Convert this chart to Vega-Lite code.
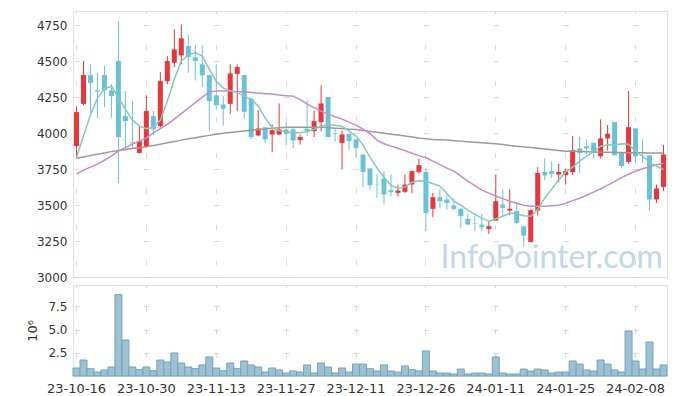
{
"$schema": "https://vega.github.io/schema/vega-lite/v6.json",
"background": "white",
"padding": {"left": 26, "top": 10, "right": 10, "bottom": 5},
"spacing": 0,
"config": {"font": "DejaVu Sans", "view": {"stroke": "#e2e2e2"}, "axis": {"labelColor": "#333333", "labelFont": "DejaVu Sans", "labelFontSize": 12, "domain": false, "ticks": false, "labelOverlap": false}},
"datasets": {"k": [
{"d":"23-10-16","o":3910,"h":4188,"l":3829,"c":4147,"v":0.86,"m5":3833,"m20":3717,"m60":3826},
{"d":"23-10-17","o":4204,"h":4502,"l":4195,"c":4404,"v":1.72,"m5":3980,"m20":3743,"m60":3835},
{"d":"23-10-18","o":4404,"h":4479,"l":4142,"c":4350,"v":0.79,"m5":4126,"m20":3764,"m60":3845},
{"d":"23-10-19","o":4298,"h":4420,"l":4107,"c":4290,"v":0.43,"m5":4244,"m20":3785,"m60":3854},
{"d":"23-10-20","o":4404,"h":4467,"l":4181,"c":4298,"v":0.65,"m5":4307,"m20":3812,"m60":3863},
{"d":"23-10-23","o":4298,"h":4341,"l":4107,"c":4258,"v":0.97,"m5":4328,"m20":3840,"m60":3872},
{"d":"23-10-24","o":4502,"h":4780,"l":3654,"c":3973,"v":8.76,"m5":4246,"m20":3875,"m60":3880},
{"d":"23-10-25","o":4119,"h":4293,"l":3898,"c":4084,"v":3.88,"m5":4167,"m20":3900,"m60":3886},
{"d":"23-10-26","o":3936,"h":4223,"l":3893,"c":3930,"v":0.97,"m5":4091,"m20":3924,"m60":3893},
{"d":"23-10-27","o":3863,"h":4049,"l":3860,"c":3945,"v":0.68,"m5":4049,"m20":3945,"m60":3899},
{"d":"23-10-30","o":3905,"h":4263,"l":3900,"c":4154,"v":0.97,"m5":4032,"m20":3968,"m60":3905},
{"d":"23-10-31","o":4119,"h":4154,"l":3986,"c":4026,"v":0.57,"m5":4039,"m20":4000,"m60":3914},
{"d":"23-11-01","o":4049,"h":4425,"l":4040,"c":4362,"v":1.72,"m5":4091,"m20":4032,"m60":3924},
{"d":"23-11-02","o":4362,"h":4536,"l":4341,"c":4502,"v":1.51,"m5":4223,"m20":4061,"m60":3933},
{"d":"23-11-03","o":4490,"h":4722,"l":4460,"c":4583,"v":2.48,"m5":4376,"m20":4098,"m60":3942},
{"d":"23-11-06","o":4541,"h":4757,"l":4479,"c":4660,"v":1.40,"m5":4502,"m20":4136,"m60":3952},
{"d":"23-11-07","o":4606,"h":4683,"l":4420,"c":4531,"v":0.97,"m5":4543,"m20":4174,"m60":3961},
{"d":"23-11-08","o":4529,"h":4613,"l":4367,"c":4502,"v":0.79,"m5":4559,"m20":4213,"m60":3969},
{"d":"23-11-09","o":4479,"h":4611,"l":4321,"c":4402,"v":1.19,"m5":4536,"m20":4251,"m60":3977},
{"d":"23-11-10","o":4404,"h":4404,"l":4014,"c":4223,"v":2.05,"m5":4446,"m20":4286,"m60":3985},
{"d":"23-11-13","o":4263,"h":4479,"l":4165,"c":4195,"v":0.86,"m5":4362,"m20":4293,"m60":3993},
{"d":"23-11-14","o":4200,"h":4258,"l":4054,"c":4170,"v":0.57,"m5":4314,"m20":4293,"m60":3999},
{"d":"23-11-15","o":4204,"h":4479,"l":4135,"c":4416,"v":1.40,"m5":4296,"m20":4293,"m60":4005},
{"d":"23-11-16","o":4413,"h":4479,"l":4154,"c":4460,"v":0.79,"m5":4282,"m20":4289,"m60":4010},
{"d":"23-11-17","o":4404,"h":4404,"l":4107,"c":4149,"v":1.62,"m5":4258,"m20":4288,"m60":4016},
{"d":"23-11-20","o":4242,"h":4242,"l":3957,"c":3973,"v":1.19,"m5":4235,"m20":4284,"m60":4021},
{"d":"23-11-21","o":3984,"h":4160,"l":3980,"c":4033,"v":0.97,"m5":4188,"m20":4279,"m60":4025},
{"d":"23-11-22","o":4042,"h":4042,"l":3933,"c":3957,"v":0.43,"m5":4107,"m20":4275,"m60":4030},
{"d":"23-11-23","o":3991,"h":4061,"l":3868,"c":4021,"v":0.86,"m5":4037,"m20":4272,"m60":4034},
{"d":"23-11-24","o":3991,"h":4207,"l":3985,"c":4026,"v":0.65,"m5":4018,"m20":4265,"m60":4038},
{"d":"23-11-27","o":4026,"h":4077,"l":3917,"c":3996,"v":0.32,"m5":4011,"m20":4261,"m60":4042},
{"d":"23-11-28","o":4026,"h":4044,"l":3894,"c":3950,"v":0.54,"m5":4004,"m20":4258,"m60":4042},
{"d":"23-11-29","o":3952,"h":3991,"l":3922,"c":3973,"v":0.43,"m5":4004,"m20":4234,"m60":4042},
{"d":"23-11-30","o":4030,"h":4228,"l":3980,"c":4014,"v":1.19,"m5":4011,"m20":4202,"m60":4042},
{"d":"23-12-01","o":4014,"h":4158,"l":3973,"c":4084,"v":0.32,"m5":4028,"m20":4178,"m60":4042},
{"d":"23-12-04","o":4077,"h":4332,"l":4014,"c":4207,"v":1.40,"m5":4049,"m20":4154,"m60":4042},
{"d":"23-12-05","o":4251,"h":4251,"l":3973,"c":3973,"v":0.97,"m5":4060,"m20":4133,"m60":4039},
{"d":"23-12-06","o":3999,"h":4033,"l":3940,"c":3994,"v":0.32,"m5":4056,"m20":4115,"m60":4035},
{"d":"23-12-07","o":3933,"h":4019,"l":3748,"c":3991,"v":0.86,"m5":4049,"m20":4098,"m60":4032},
{"d":"23-12-08","o":3996,"h":3996,"l":3887,"c":3945,"v":0.43,"m5":4014,"m20":4077,"m60":4028},
{"d":"23-12-11","o":3957,"h":3957,"l":3833,"c":3898,"v":1.29,"m5":3980,"m20":4056,"m60":4025},
{"d":"23-12-12","o":3852,"h":3852,"l":3625,"c":3731,"v":1.29,"m5":3917,"m20":4028,"m60":4019},
{"d":"23-12-13","o":3755,"h":3755,"l":3609,"c":3639,"v":0.79,"m5":3833,"m20":3997,"m60":4012},
{"d":"23-12-14","o":3645,"h":3717,"l":3550,"c":3643,"v":0.54,"m5":3759,"m20":3952,"m60":4006},
{"d":"23-12-15","o":3685,"h":3736,"l":3504,"c":3574,"v":1.19,"m5":3694,"m20":3927,"m60":4000},
{"d":"23-12-18","o":3604,"h":3713,"l":3562,"c":3590,"v":0.54,"m5":3639,"m20":3910,"m60":3993},
{"d":"23-12-19","o":3585,"h":3643,"l":3562,"c":3601,"v":0.43,"m5":3618,"m20":3896,"m60":3987},
{"d":"23-12-20","o":3592,"h":3713,"l":3585,"c":3643,"v":1.08,"m5":3625,"m20":3879,"m60":3980},
{"d":"23-12-21","o":3643,"h":3740,"l":3585,"c":3736,"v":0.68,"m5":3659,"m20":3861,"m60":3973},
{"d":"23-12-22","o":3731,"h":3824,"l":3717,"c":3778,"v":0.54,"m5":3670,"m20":3844,"m60":3966},
{"d":"23-12-26","o":3731,"h":3755,"l":3318,"c":3446,"v":2.69,"m5":3666,"m20":3829,"m60":3961},
{"d":"23-12-27","o":3474,"h":3585,"l":3416,"c":3555,"v":0.54,"m5":3649,"m20":3806,"m60":3957},
{"d":"23-12-28","o":3555,"h":3609,"l":3481,"c":3527,"v":0.32,"m5":3632,"m20":3781,"m60":3955},
{"d":"24-01-02","o":3539,"h":3574,"l":3469,"c":3515,"v":0.32,"m5":3583,"m20":3757,"m60":3952},
{"d":"24-01-03","o":3497,"h":3546,"l":3462,"c":3474,"v":0.22,"m5":3527,"m20":3736,"m60":3948},
{"d":"24-01-04","o":3474,"h":3480,"l":3341,"c":3423,"v":0.75,"m5":3499,"m20":3701,"m60":3945},
{"d":"24-01-05","o":3404,"h":3439,"l":3360,"c":3365,"v":0.22,"m5":3465,"m20":3666,"m60":3941},
{"d":"24-01-08","o":3375,"h":3428,"l":3318,"c":3372,"v":0.32,"m5":3435,"m20":3635,"m60":3938},
{"d":"24-01-09","o":3365,"h":3439,"l":3318,"c":3346,"v":0.32,"m5":3409,"m20":3604,"m60":3934},
{"d":"24-01-10","o":3334,"h":3383,"l":3300,"c":3353,"v":0.22,"m5":3388,"m20":3583,"m60":3931},
{"d":"24-01-11","o":3393,"h":3713,"l":3390,"c":3527,"v":2.05,"m5":3405,"m20":3562,"m60":3927},
{"d":"24-01-12","o":3504,"h":3609,"l":3423,"c":3481,"v":0.32,"m5":3423,"m20":3545,"m60":3922},
{"d":"24-01-15","o":3462,"h":3609,"l":3430,"c":3474,"v":0.22,"m5":3444,"m20":3527,"m60":3915},
{"d":"24-01-16","o":3458,"h":3522,"l":3370,"c":3376,"v":0.22,"m5":3440,"m20":3513,"m60":3910},
{"d":"24-01-17","o":3353,"h":3355,"l":3214,"c":3288,"v":0.75,"m5":3426,"m20":3499,"m60":3905},
{"d":"24-01-18","o":3244,"h":3470,"l":3240,"c":3465,"v":0.54,"m5":3422,"m20":3492,"m60":3900},
{"d":"24-01-19","o":3462,"h":3764,"l":3428,"c":3724,"v":0.75,"m5":3470,"m20":3492,"m60":3895},
{"d":"24-01-22","o":3731,"h":3824,"l":3673,"c":3706,"v":0.65,"m5":3548,"m20":3492,"m60":3890},
{"d":"24-01-23","o":3736,"h":3805,"l":3689,"c":3717,"v":0.32,"m5":3611,"m20":3496,"m60":3885},
{"d":"24-01-24","o":3713,"h":3787,"l":3659,"c":3731,"v":0.43,"m5":3677,"m20":3499,"m60":3880},
{"d":"24-01-25","o":3708,"h":3755,"l":3643,"c":3736,"v":0.43,"m5":3729,"m20":3513,"m60":3875},
{"d":"24-01-26","o":3729,"h":3980,"l":3708,"c":3882,"v":1.62,"m5":3764,"m20":3531,"m60":3874},
{"d":"24-01-29","o":3894,"h":3975,"l":3724,"c":3863,"v":1.29,"m5":3806,"m20":3548,"m60":3872},
{"d":"24-01-30","o":3910,"h":3957,"l":3852,"c":3894,"v":0.65,"m5":3840,"m20":3569,"m60":3871},
{"d":"24-01-31","o":3933,"h":3935,"l":3824,"c":3863,"v":0.54,"m5":3872,"m20":3590,"m60":3870},
{"d":"24-02-01","o":3840,"h":4096,"l":3824,"c":3964,"v":1.72,"m5":3910,"m20":3614,"m60":3868},
{"d":"24-02-02","o":3964,"h":4056,"l":3880,"c":3996,"v":1.29,"m5":3920,"m20":3639,"m60":3867},
{"d":"24-02-05","o":4077,"h":4080,"l":3845,"c":3847,"v":0.65,"m5":3917,"m20":3663,"m60":3866},
{"d":"24-02-06","o":3863,"h":3865,"l":3755,"c":3771,"v":0.43,"m5":3927,"m20":3691,"m60":3866},
{"d":"24-02-07","o":3801,"h":4293,"l":3787,"c":4042,"v":4.85,"m5":3924,"m20":3715,"m60":3865},
{"d":"24-02-08","o":4033,"h":4035,"l":3794,"c":3840,"v":1.62,"m5":3875,"m20":3736,"m60":3864},
{"d":"24-02-13","o":3848,"h":3957,"l":3794,"c":3845,"v":0.75,"m5":3840,"m20":3753,"m60":3864},
{"d":"24-02-14","o":3845,"h":3848,"l":3462,"c":3539,"v":3.66,"m5":3799,"m20":3767,"m60":3863},
{"d":"24-02-15","o":3539,"h":3643,"l":3515,"c":3616,"v":0.75,"m5":3771,"m20":3781,"m60":3863},
{"d":"24-02-16","o":3627,"h":3917,"l":3597,"c":3852,"v":1.19,"m5":3748,"m20":3792,"m60":3863}
]},
"vconcat": [
{
 "width": 594, "height": 266,
 "data": {"name": "k"},
 "resolve": {"axis": {"y": "independent"}},
 "encoding": {"x": {"field": "d", "type": "ordinal", "sort": "ascending", "scale": {"paddingInner": 0, "paddingOuter": 0},
   "axis": {"values": ["23-10-16","23-10-30","23-11-13","23-11-27","23-12-11","23-12-26","24-01-11","24-01-25","24-02-08"], "labels": false, "title": null, "grid": true, "gridColor": "#d8d8d8", "gridDash": [5, 30.95], "gridDashOffset": 2.5}}},
 "layer": [
  {"transform": [{"filter": "datum.d === '24-01-23'"}],
   "mark": {"type": "text", "font": "Lato", "fontSize": 32, "color": "#c3d8e4", "align": "center", "baseline": "alphabetic"},
   "encoding": {"y": {"datum": 3066, "scale": {"domain": [3000, 4850], "zero": false, "nice": false},
      "axis": {"values": [3000,3250,3500,3750,4000,4250,4500,4750], "format": "d", "title": null, "labelPadding": 6, "labelOverlap": false, "grid": true, "gridColor": "#d8d8d8", "gridDash": [5, 64.88], "gridDashOffset": 68.88}},
    "text": {"value": "InfoPointer.com"}}},
  {"mark": {"type": "rule", "strokeWidth": 1},
   "encoding": {"y": {"field": "l", "type": "quantitative", "axis": null},
    "y2": {"field": "h"},
    "color": {"condition": {"test": "datum.c >= datum.o", "value": "#ec343a"}, "value": "#69c3d8"}}},
  {"mark": {"type": "bar", "size": 5},
   "encoding": {"y": {"field": "o", "type": "quantitative", "axis": null}, "y2": {"field": "c"},
    "color": {"condition": {"test": "datum.c >= datum.o", "value": "#ec343a"}, "value": "#69c3d8"}}},
  {"mark": {"type": "line", "strokeWidth": 1.5, "color": "#9a9a9a"}, "encoding": {"y": {"field": "m60", "type": "quantitative", "axis": null}}},
  {"mark": {"type": "line", "strokeWidth": 1.5, "color": "#c98bc6"}, "encoding": {"y": {"field": "m20", "type": "quantitative", "axis": null}}},
  {"mark": {"type": "line", "strokeWidth": 1.5, "color": "#84c9bd"}, "encoding": {"y": {"field": "m5", "type": "quantitative", "axis": null}}}
 ]
},
{
 "width": 594, "height": 91,
 "data": {"name": "k"},
 "mark": {"type": "bar", "fill": "#9dc1d1", "stroke": "#72a5bd", "strokeWidth": 1, "width": {"band": 1}},
 "encoding": {
  "x": {"field": "d", "type": "ordinal", "sort": "ascending", "scale": {"paddingInner": 0, "paddingOuter": 0},
   "axis": {"values": ["23-10-16","23-10-30","23-11-13","23-11-27","23-12-11","23-12-26","24-01-11","24-01-25","24-02-08"], "title": null, "labelAngle": 0, "labelFontSize": 13, "labelPadding": 6, "labelOverlap": false, "grid": true, "gridColor": "#d8d8d8", "gridDash": [5, 18.2], "gridDashOffset": 2.5}},
  "y": {"field": "v", "type": "quantitative", "scale": {"domain": [0, 9.8], "nice": false},
   "axis": {"values": [2.5, 5, 7.5], "format": ".1f", "title": "10⁶", "titleFontWeight": "normal", "titleFontSize": 13, "titleColor": "#333333", "titleFont": "DejaVu Sans", "titlePadding": 8, "labelPadding": 6, "labelOverlap": false, "grid": true, "gridColor": "#d8d8d8", "gridDash": [5, 64.88], "gridDashOffset": 68.88}}
 }
}
]
}
